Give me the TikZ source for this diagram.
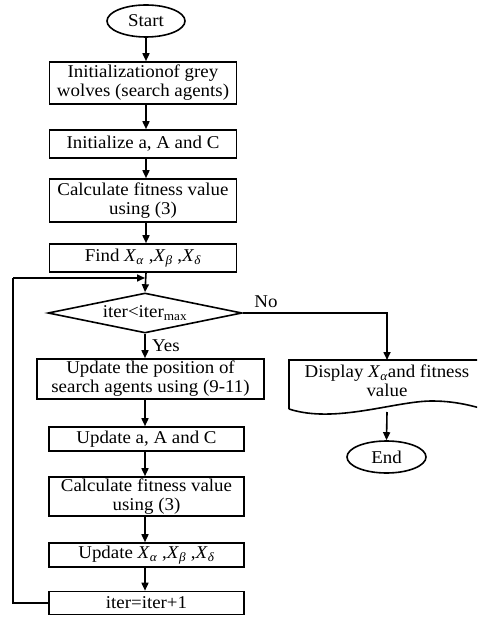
\documentclass[tikz,border=0pt]{standalone}
\usepackage{fontspec}
\setmainfont{Liberation Serif}[FakeStretch=1.05]
\usetikzlibrary{arrows.meta,shapes.geometric}
\newcommand\Xsub[1]{\textit{X}\textsubscript{\textit{#1}}}
\begin{document}
\begin{tikzpicture}[x=1pt,y=-1pt,
  every node/.style={font=\fontsize{18}{19}\selectfont},
  line/.style={line width=1.6pt},
  arr/.style={line width=1.6pt,-{Triangle[width=7pt,length=8pt]}},
  box/.style={draw,line width=1.6pt,rectangle,inner sep=1pt,align=center},
  term/.style={draw,line width=1.6pt,ellipse,inner sep=0pt},
  decision/.style={draw,line width=1.6pt,diamond,aspect=4.85,inner sep=0pt}]
\useasboundingbox (0,0) rectangle (477,617);
\clip (0,0) rectangle (477,617);
\node[term,minimum width=78pt,minimum height=32pt] (start) at (146,21) {Start};
\node[box,minimum width=187pt,minimum height=42pt] (b1) at (143,83) {Initializationof grey\\wolves (search agents)};
\node[box,minimum width=187pt,minimum height=28pt] (b2) at (143,144) {Initialize a, A and C};
\node[box,minimum width=187pt,minimum height=43pt] (b3) at (143,200.5) {Calculate fitness value\\using (3)};
\node[box,minimum width=187pt,minimum height=28pt] (b4) at (143,258) {Find \Xsub{α} ,\Xsub{β} ,\Xsub{δ}};
\node[decision,minimum width=194pt,minimum height=40pt] (dia) at (145,313) {iter<iter\textsubscript{max}};
\node[box,minimum width=227pt,minimum height=40pt] (b5) at (150.5,379) {Update the position of\\search agents using (9-11)};
\node[box,minimum width=195pt,minimum height=24pt] (b6) at (146.5,439) {Update a, A and C};
\node[box,minimum width=195pt,minimum height=39pt] (b7) at (146.5,496.5) {Calculate fitness value\\using (3)};
\node[box,minimum width=195pt,minimum height=24pt] (b8) at (146.5,555) {Update \Xsub{α} ,\Xsub{β} ,\Xsub{δ}};
\node[box,minimum width=195pt,minimum height=23pt] (b9) at (146.5,603) {iter=iter+1};
% display (document shape)
\node[align=center,inner sep=0pt] (disp) at (387,381) {Display \Xsub{α}and fitness\\value};
\coordinate (dtop) at (387,360);
\coordinate (dbot) at (387,412);
\draw[line] (289,409) -- (289,360) -- (500,360) -- (500,414)
  .. controls (480,408) and (460,401) .. (432,401)
  .. controls (395,401) and (335,424) .. (289,409);
\node[term,minimum width=79pt,minimum height=32pt] (end) at (386.5,457) {End};
% connectors
\draw[arr] (start.south) -- (start.south |- b1.north);
\draw[arr] (start.south |- b1.south) -- (start.south |- b2.north);
\draw[arr] (start.south |- b2.south) -- (start.south |- b3.north);
\draw[arr] (start.south |- b3.south) -- (start.south |- b4.north);
\draw[arr] (start.south |- b4.south) -- (dia.north);
\draw[arr] (dia.south) -- (dia.south |- b5.north);
\node[anchor=west,inner sep=0pt] (yes) at (152,346) {Yes};
\draw[arr] (dia.south |- b5.south) -- (dia.south |- b6.north);
\draw[arr] (dia.south |- b6.south) -- (dia.south |- b7.north);
\draw[arr] (dia.south |- b7.south) -- (dia.south |- b8.north);
\draw[arr] (dia.south |- b8.south) -- (dia.south |- b9.north);
\coordinate (loopc) at (13,278);
\coordinate (join) at (145,278);
\draw[line] (b9.west) -- (b9.west -| loopc) -- (loopc);
\draw[arr] (loopc) -- (join);
\draw[arr] (dia.east) -- (dia.east -| dtop) -- (dtop);
\node[inner sep=0pt] (no) at (266,302) {No};
\draw[arr] (dbot) -- (end.north);
\end{tikzpicture}
\end{document}
